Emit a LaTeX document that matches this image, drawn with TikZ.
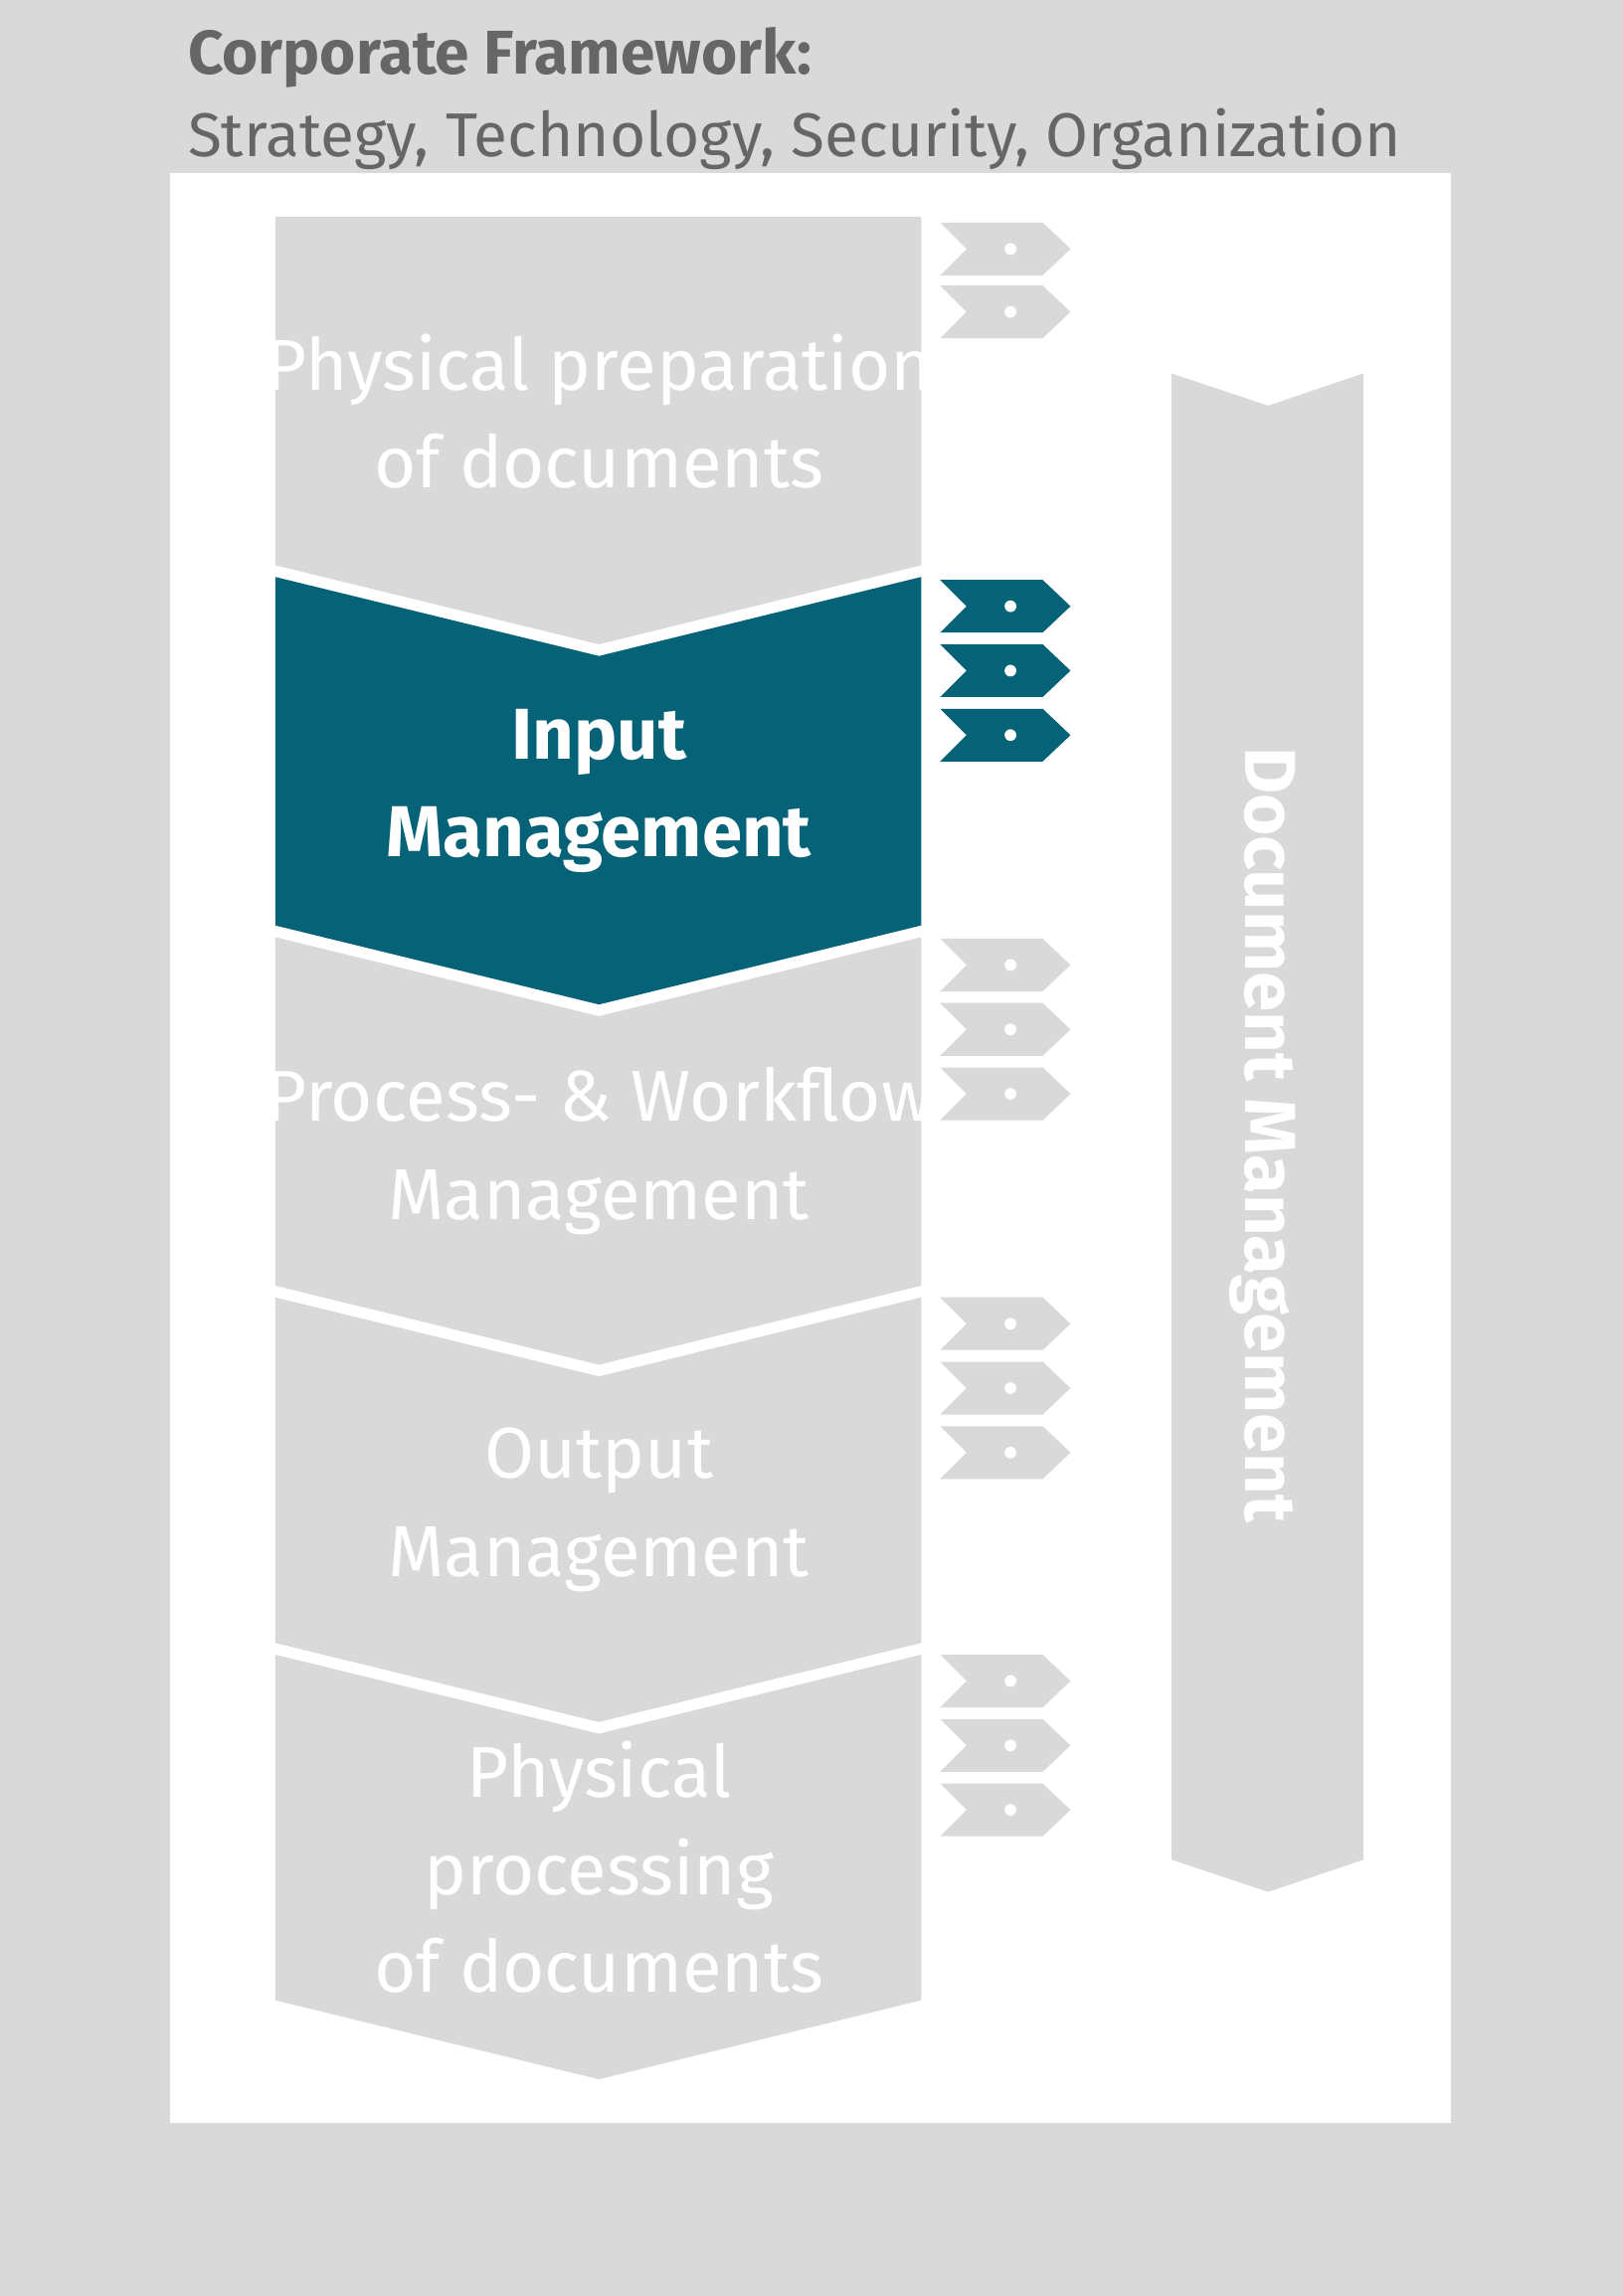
\documentclass[tikz,border=0pt]{standalone}
\usepackage{fontspec}
\setmainfont{Fira Sans}
\usepackage{tikz}
\definecolor{teal}{HTML}{066377}
\definecolor{lgray}{HTML}{D9D9D9}
\definecolor{tgray}{HTML}{666666}
\tikzset{
  stage/.style = {fill = lgray},
  stagetext/.style = {white, align = center, font = \fontsize{14}{19}\selectfont},
  tag/.style = {fill = lgray},
}
\newcommand{\chev}[4]{% top, bottom, style, name
  \fill [#3] (188, #1) -- (409, #1+54) -- (629, #1) -- (629, #2) -- (409, #2+54) -- (188, #2) -- cycle;
  \coordinate (#4) at (409, #1/2+#2/2+27);}
\newcommand{\tagat}[2]{%
  \fill [#2] (642, #1-18) -- (712, #1-18) -- (731, #1) -- (712, #1+18) -- (642, #1+18) -- (660, #1) -- cycle;
  \fill [white] (690, #1) circle (4);}

\begin{document}
\begin{tikzpicture}[x = .01cm, y = -.01cm]
  \fill [lgray] (0, 0) rectangle (1108, 1568);
  \fill [white] (116, 118) rectangle (991, 1450);
  \node [anchor = west, tgray, align = left, font = \fontsize{12}{16}\selectfont] (title) at (116, 67)
    {\textbf{Corporate Framework:}\\Strategy, Technology, Security, Organization};
  % stages
  \fill [stage] (188, 148) -- (629, 148) -- (629, 386) -- (409, 440) -- (188, 386) -- cycle;
  \coordinate (prep) at (409, 281);
  \chev{394}{632}{fill = teal}{input}
  \chev{640}{878}{stage}{proc}
  \chev{886}{1122}{stage}{out}
  \chev{1130}{1366}{stage}{phys}
  \node [stagetext] at (prep) {Physical preparation\\of documents};
  \node [stagetext, font = \fontsize{14}{19}\bfseries] at (input) {Input\\Management};
  \node [stagetext] at (proc) {Process- \& Workflow\\Management};
  \node [stagetext] at (out) {Output\\Management};
  \node [stagetext] at (phys) {Physical\\processing\\of documents};
  % tags
  \foreach \y in {170, 213, 659, 703, 747, 904, 948, 992, 1148, 1192, 1236}
    \tagat{\y}{tag};
  \foreach \y in {414, 458, 502}
    \tagat{\y}{fill = teal};
  % document management
  \fill [stage] (800, 255) -- (866, 277) -- (931, 255) -- (931, 1270) -- (866, 1292) -- (800, 1270) -- cycle;
  \node [white, rotate = -90, font = \fontsize{14}{19}\bfseries] (dm) at (862, 775) {Document Management};
\end{tikzpicture}
\end{document}
